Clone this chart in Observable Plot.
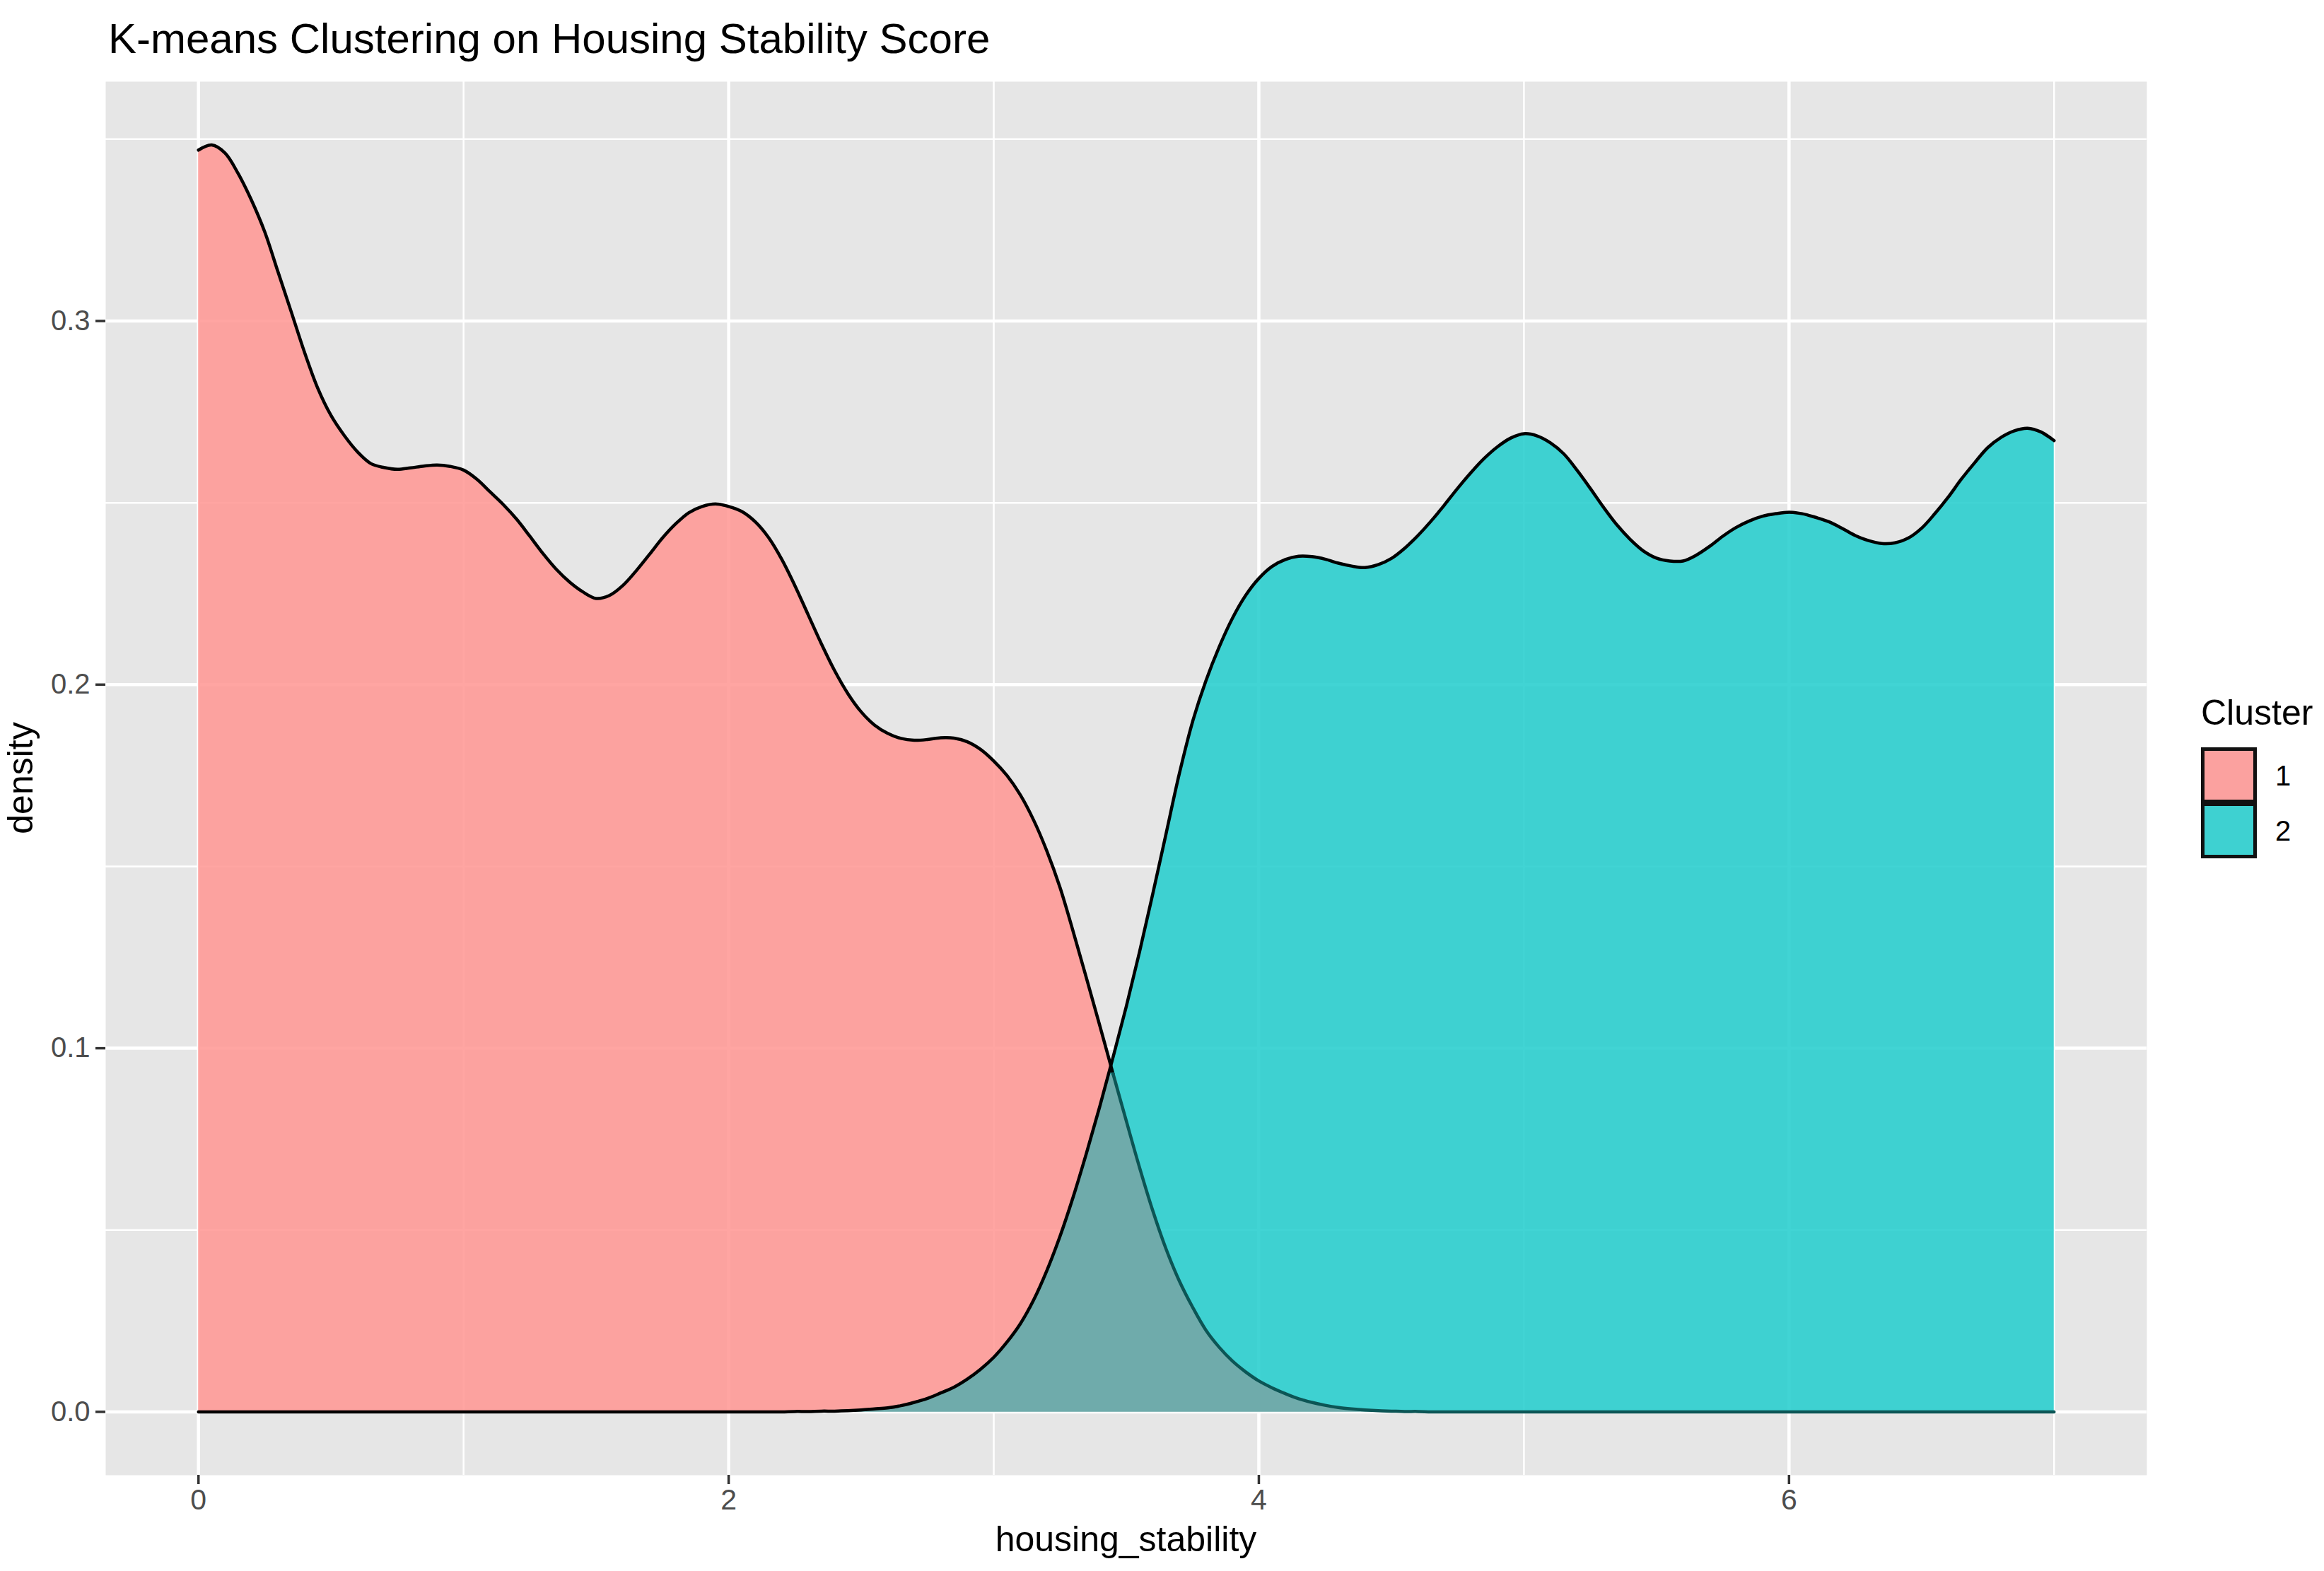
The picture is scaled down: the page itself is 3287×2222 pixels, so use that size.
<!DOCTYPE html>
<html>
<head>
<meta charset="utf-8">
<script src="https://cdn.jsdelivr.net/npm/d3@7"></script>
<script src="https://cdn.jsdelivr.net/npm/@observablehq/plot@0.6"></script>
<style>
html, body { margin: 0; padding: 0; background: #ffffff; }
#chart { position: relative; width: 3287px; height: 2222px; }
</style>
</head>
<body>
<div id="chart"></div>
<script>
// ---- data ----
const titleText = "K-means Clustering on Housing Stability Score";
const xLabel = "housing_stability";
const yLabel = "density";
const legendTitle = "Cluster";
const clusterLabels = ["1", "2"];

const xTicks = [0, 2, 4, 6];
const xMinorTicks = [1, 3, 5, 7];
const yTicks = [0, 0.1, 0.2, 0.3];
const yMinorTicks = [0.05, 0.15, 0.25, 0.35];

const xGrid = [
  0.00,0.05,0.10,0.15,0.20,0.25,0.30,0.35,0.40,0.45,
  0.50,0.55,0.60,0.65,0.70,0.75,0.80,0.85,0.90,0.95,
  1.00,1.05,1.10,1.15,1.20,1.25,1.30,1.35,1.40,1.45,
  1.50,1.55,1.60,1.65,1.70,1.75,1.80,1.85,1.90,1.95,
  2.00,2.05,2.10,2.15,2.20,2.25,2.30,2.35,2.40,2.45,
  2.50,2.55,2.60,2.65,2.70,2.75,2.80,2.85,2.90,2.95,
  3.00,3.05,3.10,3.15,3.20,3.25,3.30,3.35,3.40,3.45,
  3.50,3.55,3.60,3.65,3.70,3.75,3.80,3.85,3.90,3.95,
  4.00,4.05,4.10,4.15,4.20,4.25,4.30,4.35,4.40,4.45,
  4.50,4.55,4.60,4.65,4.70,4.75,4.80,4.85,4.90,4.95,
  5.00,5.05,5.10,5.15,5.20,5.25,5.30,5.35,5.40,5.45,
  5.50,5.55,5.60,5.65,5.70,5.75,5.80,5.85,5.90,5.95,
  6.00,6.05,6.10,6.15,6.20,6.25,6.30,6.35,6.40,6.45,
  6.50,6.55,6.60,6.65,6.70,6.75,6.80,6.85,6.90,6.95,
  7.00
];

const cluster1Density = [
  .3470,.3484,.3462,.3405,.3332,.3245,.3135,.3025,.2914,.2815,
  .2740,.2685,.2640,.2608,.2597,.2592,.2596,.2601,.2604,.2600,
  .2590,.2565,.2530,.2495,.2455,.2408,.2360,.2317,.2282,.2255,
  .2237,.2245,.2272,.2312,.2357,.2403,.2442,.2473,.2490,.2497,
  .2490,.2476,.2448,.2405,.2345,.2272,.2192,.2112,.2038,.1975,
  .1925,.1889,.1866,.1852,.1847,.1849,.1854,.1853,.1843,.1822,
  .1790,.1750,.1697,.1628,.1543,.1442,.1320,.1192,.1062,.0930,
  .0800,.0672,.0553,.0448,.0360,.0288,.0225,.0178,.0140,.0110,
  .0085,.0066,.0050,.0036,.0026,.0018,.0012,.0008,.0005,.0003,
  .0002,.0001,.0001,0,0,0,0,0,0,0,
  0,0,0,0,0,0,0,0,0,0,
  0,0,0,0,0,0,0,0,0,0,
  0,0,0,0,0,0,0,0,0,0,
  0,0,0,0,0,0,0,0,0,0,
  0
];

const cluster2Density = [
  0,0,0,0,0,0,0,0,0,0,
  0,0,0,0,0,0,0,0,0,0,
  0,0,0,0,0,0,0,0,0,0,
  0,0,0,0,0,0,0,0,0,0,
  0,0,0,0,0,.0001,.0001,.0002,.0002,.0003,
  .0005,.0008,.0011,.0017,.0026,.0037,.0052,.0068,.0090,.0117,
  .0150,.0192,.0242,.0307,.0388,.0483,.0592,.0712,.0840,.0975,
  .1115,.1265,.1425,.1590,.1755,.1898,.2010,.2103,.2182,.2245,
  .2292,.2325,.2344,.2353,.2352,.2345,.2334,.2326,.2322,.2330,
  .2347,.2375,.2410,.2450,.2494,.2540,.2583,.2622,.2654,.2678,
  .2690,.2684,.2665,.2635,.2590,.2540,.2488,.2440,.2400,.2368,
  .2348,.2340,.2340,.2356,.2380,.2408,.2432,.2450,.2463,.2470,
  .2474,.2470,.2460,.2448,.2430,.2410,.2396,.2388,.2390,.2403,
  .2430,.2470,.2515,.2565,.2610,.2652,.2680,.2698,.2705,.2695,
  .2671
];

// ---- styling ----
const W = 3287, H = 2222;
const font = "'Liberation Sans', Arial, Helvetica, sans-serif";
const panelBg = "#E6E6E6";
const fillOpacity = 0.85;
const fill1 = "#FF9592";
const fill2 = "#20CDCD";
const fillOverlap = "#78A6A6";
const keyColors = ["#FBA19F", "#3ED1D1"];
const curve = "catmull-rom";
const crossing = 3.45;

const table = xGrid.map((x, i) => ({
  x,
  p: cluster1Density[i],
  t: cluster2Density[i],
  o: Math.min(cluster1Density[i], cluster2Density[i])
}));
const ymax = d3.max(table, d => Math.max(d.p, d.t));

const svg = Plot.plot({
  width: W,
  height: H,
  marginLeft: 149,
  marginRight: W - 3036,
  marginTop: 115,
  marginBottom: H - 2086,
  style: { fontFamily: font, background: "#ffffff" },
  x: { domain: [-0.35, 7.35] },
  y: { domain: [-0.05 * ymax, 1.05 * ymax] },
  marks: [
    Plot.frame({ fill: panelBg, stroke: "none" }),
    Plot.gridX(xMinorTicks, { stroke: "#ffffff", strokeOpacity: 1, strokeWidth: 2.5 }),
    Plot.gridY(yMinorTicks, { stroke: "#ffffff", strokeOpacity: 1, strokeWidth: 2.5 }),
    Plot.gridX(xTicks, { stroke: "#ffffff", strokeOpacity: 1, strokeWidth: 4.5 }),
    Plot.gridY(yTicks, { stroke: "#ffffff", strokeOpacity: 1, strokeWidth: 4.5 }),
    Plot.areaY(table, { x: "x", y: "p", fill: fill1, fillOpacity, curve }),
    Plot.areaY(table, { x: "x", y: "t", fill: fill2, fillOpacity, curve }),
    Plot.areaY(table, { x: "x", y: "o", fill: fillOverlap, fillOpacity, curve }),
    Plot.lineY(table, { filter: d => d.x <= crossing + 1e-9, x: "x", y: "p", stroke: "#000000", strokeWidth: 4.5, curve }),
    Plot.lineY(table, { filter: d => d.x >= crossing - 1e-9, x: "x", y: "p", stroke: "#0C5555", strokeWidth: 4.5, curve }),
    Plot.lineY(table, { x: "x", y: "t", stroke: "#000000", strokeWidth: 4.5, curve }),
    Plot.axisX(xTicks, {
      tickSize: 13, tickPadding: 6, fontSize: 41, tickFormat: d3.format("d"),
      fill: "#4D4D4D", stroke: "#333333", strokeWidth: 3.5, label: null
    }),
    Plot.axisY(yTicks, {
      tickSize: 14, tickPadding: 8, fontSize: 40, tickFormat: d3.format(".1f"),
      fill: "#4D4D4D", stroke: "#333333", strokeWidth: 3.5, label: null
    })
  ]
});

document.getElementById("chart").appendChild(svg);

// ---- titles and legend (real text) ----
const s = d3.select(svg);
const g = s.append("g").attr("font-family", font).attr("text-anchor", "start");

g.append("text")
  .attr("x", 153).attr("y", 75)
  .attr("text-anchor", "start")
  .attr("font-size", 60).attr("fill", "#000000")
  .text(titleText);

g.append("text")
  .attr("x", (149 + 3036) / 2).attr("y", 2194)
  .attr("text-anchor", "middle")
  .attr("font-size", 50).attr("fill", "#000000")
  .text(xLabel);

g.append("text")
  .attr("transform", `translate(46,${(115 + 2086) / 2}) rotate(-90)`)
  .attr("text-anchor", "middle")
  .attr("font-size", 50).attr("fill", "#000000")
  .text(yLabel);

g.append("text")
  .attr("x", 3113).attr("y", 1025)
  .attr("text-anchor", "start")
  .attr("font-size", 50).attr("fill", "#000000")
  .text(legendTitle);

const keySize = 74, keyStep = 78, keyX = 3115.5, keyY0 = 1059.5;
const leg = g.selectAll("g.key").data(clusterLabels).join("g").attr("class", "key");
leg.append("rect")
  .attr("x", keyX)
  .attr("y", (d, i) => keyY0 + i * keyStep)
  .attr("width", keySize).attr("height", keySize)
  .attr("fill", (d, i) => keyColors[i])
  .attr("stroke", "#111111").attr("stroke-width", 5);
leg.append("text")
  .attr("x", 3218)
  .attr("y", (d, i) => keyY0 + keySize / 2 + i * keyStep + 14.5)
  .attr("text-anchor", "start")
  .attr("font-size", 40).attr("fill", "#000000")
  .text(d => d);
</script>
</body>
</html>
